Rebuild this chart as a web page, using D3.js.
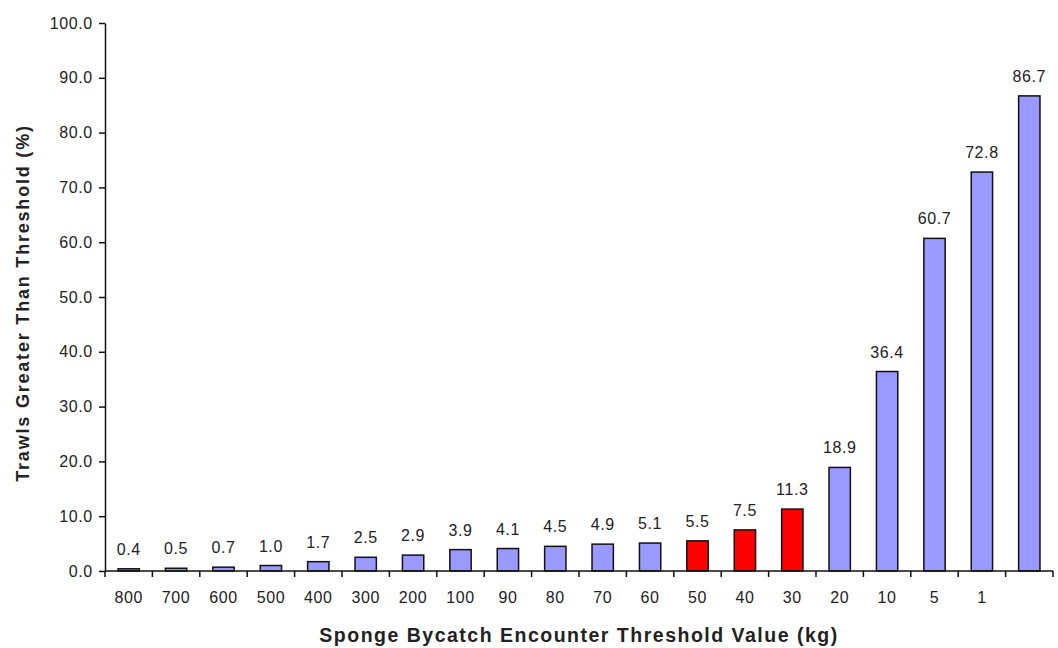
<!DOCTYPE html>
<html>
<head>
<meta charset="utf-8">
<script src="https://cdn.jsdelivr.net/npm/d3@7"></script>
<style>
  body { margin: 0; background: #fff; }
  svg { font-family: "Liberation Sans", Arial, sans-serif; }
</style>
</head>
<body>
<div id="chart"></div>
<script>
// thresholds (kg); last bar has no label in the original
const thresholds = ['800', '700', '600', '500', '400', '300', '200', '100', '90', '80',
  '70', '60', '50', '40', '30', '20', '10', '5', '1', ''];
const percents = [0.4, 0.5, 0.7, 1.0, 1.7, 2.5, 2.9, 3.9, 4.1, 4.5,
  4.9, 5.1, 5.5, 7.5, 11.3, 18.9, 36.4, 60.7, 72.8, 86.7];
const highlighted = ['50', '40', '30'];
const yTicks = [0, 10, 20, 30, 40, 50, 60, 70, 80, 90, 100];

const width = 1058,
  height = 648;
const margin = {top: 23, right: 5, bottom: 77, left: 105};

const data = thresholds.map((t, i) => ({key: t, value: percents[i]}));

const x = d3.scaleBand()
  .domain(thresholds)
  .range([margin.left, width - margin.right])
  .paddingInner(0.55)
  .paddingOuter(0.275);

const y = d3.scaleLinear()
  .domain([0, 100])
  .range([height - margin.bottom, margin.top]);

const svg = d3.select('#chart').append('svg')
  .attr('width', width)
  .attr('height', height)
  .attr('viewBox', [0, 0, width, height]);

// bars
svg.append('g')
  .selectAll('rect')
  .data(data)
  .join('rect')
  .attr('x', d => x(d.key))
  .attr('y', d => y(d.value))
  .attr('width', x.bandwidth())
  .attr('height', d => y(0) - y(d.value))
  .attr('fill', d => highlighted.includes(d.key) ? '#ff0000' : '#9999ff')
  .attr('stroke', '#111')
  .attr('stroke-width', 1.5);

// value labels
svg.append('g')
  .selectAll('text')
  .data(data)
  .join('text')
  .attr('x', d => x(d.key) + x.bandwidth() / 2)
  .attr('y', d => y(d.value) - 14)
  .attr('text-anchor', 'middle')
  .attr('font-size', 16)
  .attr('letter-spacing', 0.6)
  .attr('fill', '#222')
  .text(d => d.value.toFixed(1));

// y axis
svg.append('g')
  .attr('transform', `translate(${margin.left},0)`)
  .call(d3.axisLeft(y).tickValues(yTicks).tickFormat(d3.format('.1f')).tickSize(6).tickSizeOuter(0))
  .call(g => g.selectAll('.tick text')
    .attr('font-size', 16)
    .attr('letter-spacing', 0.6)
    .attr('fill', '#222')
    .attr('dx', '-0.2em'))
  .call(g => g.selectAll('line, path').attr('stroke', '#111').attr('stroke-width', 1.5));

// x axis: line + ticks between categories
const step = x.step();
const bounds = d3.range(thresholds.length + 1).map(i => margin.left + i * step);
const gx = svg.append('g');
gx.append('line')
  .attr('x1', margin.left).attr('x2', width - margin.right)
  .attr('y1', y(0)).attr('y2', y(0))
  .attr('stroke', '#111').attr('stroke-width', 1.5);
gx.selectAll('.xt')
  .data(bounds)
  .join('line')
  .attr('x1', d => d).attr('x2', d => d)
  .attr('y1', y(0)).attr('y2', y(0) + 6)
  .attr('stroke', '#111').attr('stroke-width', 1.5);
gx.selectAll('text')
  .data(thresholds)
  .join('text')
  .attr('x', d => x(d) + x.bandwidth() / 2)
  .attr('y', y(0) + 32)
  .attr('text-anchor', 'middle')
  .attr('font-size', 16)
  .attr('letter-spacing', 0.6)
  .attr('fill', '#222')
  .text(d => d);

// axis titles
svg.append('text')
  .attr('x', (margin.left + width - margin.right) / 2)
  .attr('y', 642)
  .attr('text-anchor', 'middle')
  .attr('font-size', 19.5)
  .attr('font-weight', 'bold')
  .attr('letter-spacing', 1.5)
  .attr('fill', '#222')
  .text('Sponge Bycatch Encounter Threshold Value (kg)');

svg.append('text')
  .attr('transform', 'translate(29,303) rotate(-90)')
  .attr('text-anchor', 'middle')
  .attr('font-size', 18)
  .attr('font-weight', 'bold')
  .attr('letter-spacing', 1.8)
  .attr('fill', '#222')
  .text('Trawls Greater Than Threshold (%)');
</script>
</body>
</html>
